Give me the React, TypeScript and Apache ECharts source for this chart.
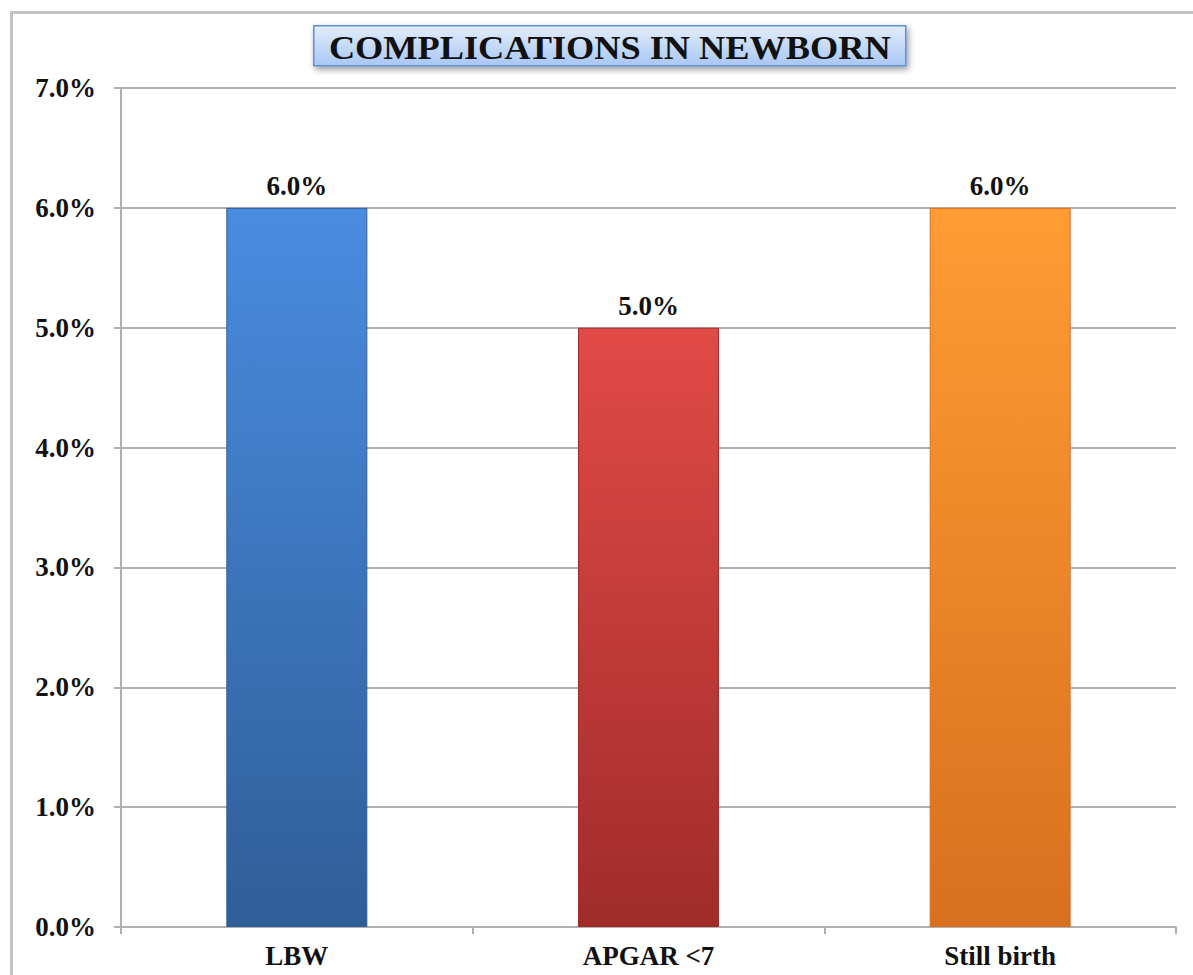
import React, { useEffect, useRef } from "react";
import * as echarts from "echarts";

const categories = ["LBW", "APGAR <7", "Still birth"];
const values = [6.0, 5.0, 6.0];
const barTopColors = ["#4a8ce0", "#e24a46", "#ff9c33"];
const barBottomColors = ["#2f5e98", "#a02c2a", "#d8701f"];
const titleText = "COMPLICATIONS IN NEWBORN";

export default function App() {
  const ref = useRef<HTMLDivElement>(null);
  useEffect(() => {
    if (!ref.current) return;
    const chart = echarts.init(ref.current, null, { renderer: "svg" });
    const font = "'Liberation Serif', 'Times New Roman', serif";
    chart.setOption({
      animation: false,
      backgroundColor: "#ffffff",
      grid: { left: 121, right: 17, top: 88, bottom: 48 },
      xAxis: {
        type: "category",
        data: categories,
        axisLine: { lineStyle: { color: "#b0b0b0", width: 2 } },
        axisTick: { show: true, length: 7, lineStyle: { color: "#b0b0b0", width: 2 } },
        axisLabel: {
          color: "#111",
          fontFamily: font,
          fontWeight: "bold",
          fontSize: 27,
          margin: 15,
        },
      },
      yAxis: {
        type: "value",
        min: 0,
        max: 7,
        interval: 1,
        axisLine: { show: true, lineStyle: { color: "#b0b0b0", width: 2 } },
        axisTick: { show: true, length: 7, lineStyle: { color: "#b0b0b0", width: 2 } },
        splitLine: { lineStyle: { color: "#b0b0b0", width: 2 } },
        axisLabel: {
          formatter: (v: number) => v.toFixed(1) + "%",
          color: "#111",
          fontFamily: font,
          fontWeight: "bold",
          fontSize: 27,
          margin: 25,
        },
      },
      series: [
        {
          type: "bar",
          barWidth: 141,
          data: values.map((v, i) => ({
            value: v,
            itemStyle: {
              color: new echarts.graphic.LinearGradient(0, 0, 0, 1, [
                { offset: 0, color: barTopColors[i] },
                { offset: 1, color: barBottomColors[i] },
              ]),
              borderColor: barBottomColors[i],
              borderWidth: 1,
            },
          })),
          label: {
            show: true,
            position: "top",
            distance: 8,
            formatter: (p: any) => p.value.toFixed(1) + "%",
            color: "#111",
            fontFamily: font,
            fontWeight: "bold",
            fontSize: 27,
          },
        },
      ],
      graphic: [
        {
          type: "rect",
          left: 9,
          top: 10,
          shape: { width: 1250, height: 1000 },
          style: { fill: "none", stroke: "#c4c4c4", lineWidth: 3 },
          silent: true,
        },
        {
          type: "group",
          left: 313,
          top: 25,
          children: [
            {
              type: "rect",
              shape: { x: 0, y: 0, width: 592, height: 40 },
              style: {
                fill: new echarts.graphic.LinearGradient(0, 0, 0, 1, [
                  { offset: 0, color: "#e3edfc" },
                  { offset: 1, color: "#a8c7f4" },
                ]),
                stroke: "#5f8fd4",
                lineWidth: 1.5,
                shadowBlur: 6,
                shadowOffsetX: 2,
                shadowOffsetY: 3,
                shadowColor: "rgba(0,0,0,0.4)",
              },
            },
            {
              type: "text",
              x: 296,
              y: 22,
              scaleX: 1.1,
              style: {
                text: titleText,
                fontFamily: font,
                fontWeight: "bold",
                fontSize: 33,
                fill: "#111",
                align: "center",
                verticalAlign: "middle",
              },
            },
          ],
        },
      ],
    });
    return () => chart.dispose();
  }, []);
  return (
    <div
      ref={ref}
      style={{ position: "fixed", left: 0, top: 0, width: 1193, height: 975 }}
    />
  );
}
